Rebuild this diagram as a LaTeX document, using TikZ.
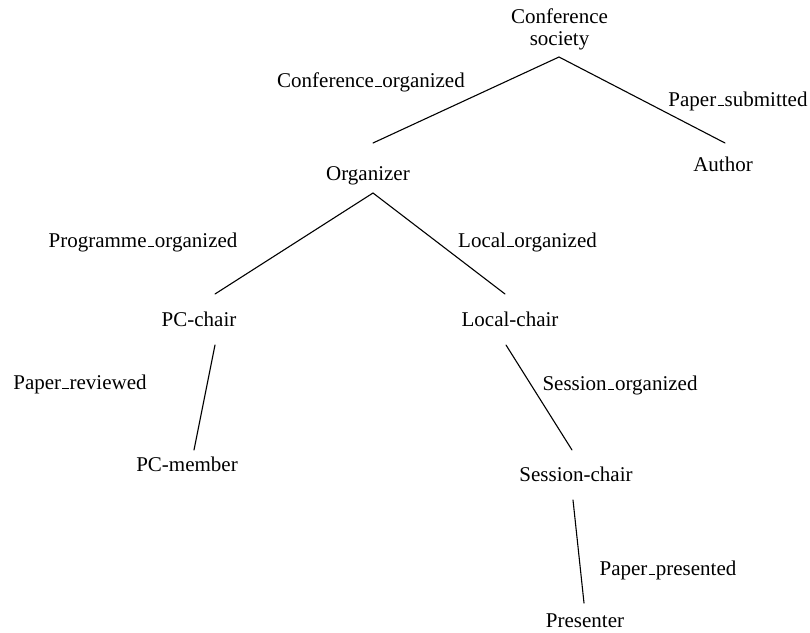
\documentclass[tikz,border=0pt]{standalone}
\usepackage{fontspec}
\setmainfont{Liberation Serif}
% low, short underscore in the style of plain TeX's \_
\newcommand\usc{\leavevmode\kern.06em\vbox{\hrule height 1.1pt width.3em}\kern.04em}
\begin{document}
\begin{tikzpicture}[x=1pt,y=-1pt,
  every node/.style={font=\fontsize{21}{22}\selectfont, inner sep=0pt},
  role/.style={anchor=base},
  rel/.style={anchor=base},
  link/.style={line width=1.1pt, line cap=round}]
\useasboundingbox (0,0) rectangle (810,632);

% roles
\node[anchor=north, align=center] (cs) at (559.5,9) {Conference\\society};
\node[role] (org)  at (368,180) {Organizer};
\node[role] (auth) at (723,171) {Author};
\node[role] (pcc)  at (199,326) {PC-chair};
\node[role] (lcc)  at (510,326) {Local-chair};
\node[role] (pcm)  at (187,471) {PC-member};
\node[role] (scc)  at (576,481) {Session-chair};
\node[role] (pres) at (585,627) {Presenter};

% relation names
\node[rel] (lco) at (371,87)  {Conference\usc organized};
\node[rel] (lps) at (738,106) {Paper\usc submitted};
\node[rel] (lpo) at (143,247) {Programme\usc organized};
\node[rel] (llo) at (527.5,247) {Local\usc organized};
\node[rel] (lpr) at (80,389)  {Paper\usc reviewed};
\node[rel] (lso) at (620,390) {Session\usc organized};
\node[rel] (lpp) at (668,575) {Paper\usc presented};

% tree edges
\draw[link] ([shift={(-0.5,48)}]cs.north) -- ([shift={(5,-37)}]org.base);
\draw[link] ([shift={(-0.5,48)}]cs.north) -- ([shift={(2,-28)}]auth.base);
\draw[link] ([shift={(5,13)}]org.base) -- ([shift={(16,-32)}]pcc.base);
\draw[link] ([shift={(5,13)}]org.base) -- ([shift={(-5,-32)}]lcc.base);
\draw[link] ([shift={(16,19)}]pcc.base) -- ([shift={(7,-21)}]pcm.base);
\draw[link] ([shift={(-4,19)}]lcc.base) -- ([shift={(-4,-31)}]scc.base);
\draw[link] ([shift={(-3,19)}]scc.base) -- ([shift={(-1,-24)}]pres.base);
\end{tikzpicture}
\end{document}
